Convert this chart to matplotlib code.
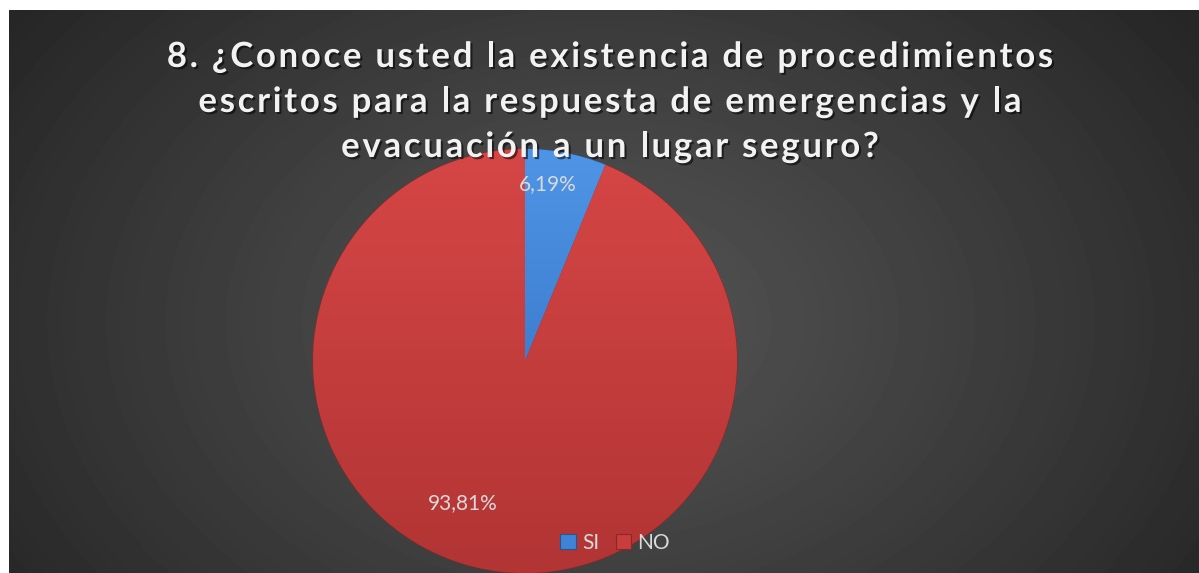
import numpy as np
import matplotlib
matplotlib.use("Agg")
import matplotlib.pyplot as plt
import matplotlib.patheffects as pe
from matplotlib.font_manager import FontProperties

labels = ["SI", "NO"]
values = [6.19, 93.81]
pct_text = ["6,19%", "93,81%"]
colors = ["#3f83d6", "#c93d3d"]
title_lines = ["8. ¿Conoce usted la existencia de procedimientos",
               "escritos para la respuesta de emergencias y la",
               "evacuación a un lugar seguro?"]

W, H = 1199, 573
fig = plt.figure(figsize=(W / 100, H / 100), dpi=100, facecolor="white")
ax = fig.add_axes([0, 0, 1, 1])
ax.axis("off")

# dark radial background
yy, xx = np.mgrid[0:563, 9:W]
d = np.sqrt(((xx - 600) / 720.0) ** 2 + ((yy - 250) / 520.0) ** 2)
bg = 0.33 - (0.33 - 0.15) * np.clip(d, 0, 1) ** 1.1
ax.imshow(bg, extent=(9, W, 0, 563), origin="lower", cmap="gray",
          vmin=0, vmax=1, zorder=0, aspect="auto", interpolation="bilinear")

# pie
cx, cy, r = 525, 212, 212
wedges, texts, autotexts = ax.pie(
    values, colors=colors, startangle=90, counterclock=False,
    center=(cx, cy), radius=r, autopct="%1.2f%%",
    wedgeprops=dict(edgecolor="#8a2828", linewidth=0.8),
    textprops=dict(color="#d9d9d9", fontsize=15, family="Lato"))

grads = [("#4f95e6", "#2c66b8"), ("#d64646", "#b23434")]
for w, (c1, c2) in zip(wedges, grads):
    a = np.array(matplotlib.colors.to_rgb(c1))
    b = np.array(matplotlib.colors.to_rgb(c2))
    t = np.linspace(0, 1, 200)[:, None, None]
    img = a * (1 - t) + b * t
    img = np.repeat(img, 2, axis=1)
    im = ax.imshow(img, extent=(cx - r, cx + r, cy - r, cy + r),
                   origin="upper", aspect="auto", zorder=1.5)
    im.set_clip_path(w)
wedges[0].set_edgecolor("#245597")

for t, s in zip(autotexts, pct_text):
    t.set_text(s)
    t.set_zorder(3)
autotexts[0].set_position((548, H - 184))
autotexts[1].set_position((463, H - 503))

ax.set_xlim(0, W)
ax.set_ylim(0, H)
ax.set_aspect("auto")

leg = ax.legend(wedges, labels, loc="center", bbox_to_anchor=(615 / W, (H - 543) / H),
                bbox_transform=fig.transFigure, ncol=2, frameon=False,
                handlelength=0.75, handleheight=0.75, handletextpad=0.3,
                columnspacing=0.8, prop=FontProperties(family="Lato", size=15))
for txt in leg.get_texts():
    txt.set_color("#d9d9d9")

# title with letter spacing
renderer = fig.canvas.get_renderer()
tprop = FontProperties(family="Lato", weight="bold", size=25)
spacing = 2.7


def text_w(s):
    w1, _, _ = renderer.get_text_width_height_descent(s + "H", tprop, ismath=False)
    w2, _, _ = renderer.get_text_width_height_descent("H", tprop, ismath=False)
    return w1 - w2


shadow = [pe.SimplePatchShadow(offset=(1.5, -1.5), shadow_rgbFace="black", alpha=0.55),
          pe.Normal()]
baselines = [67, 112, 157]
for line, yb in zip(title_lines, baselines):
    total = text_w(line) + spacing * (len(line) - 1)
    x0 = 610 - total / 2
    for i, ch in enumerate(line):
        if ch == " ":
            continue
        x = x0 + text_w(line[:i]) + spacing * i
        ax.text(x, H - yb, ch, fontproperties=tprop, color="#f2f2f2",
                ha="left", va="baseline", zorder=4, path_effects=shadow)

fig.savefig("out.png", dpi=100, facecolor="white")
